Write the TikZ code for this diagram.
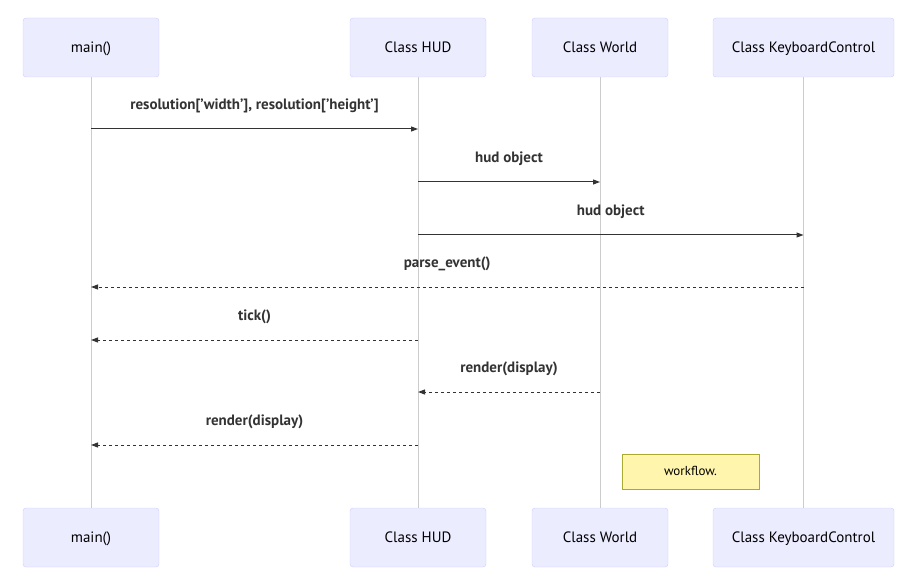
\documentclass[tikz,border=0pt]{standalone}
\usepackage{fontspec}
\setmainfont{PT Sans}
\usetikzlibrary{arrows.meta}
\definecolor{actorfill}{HTML}{ECECFF}
\definecolor{actorline}{HTML}{CCCCFF}
\definecolor{lifegrey}{HTML}{CCCCCC}
\definecolor{msgdark}{HTML}{333333}
\definecolor{notefill}{HTML}{FFF5AD}
\definecolor{noteline}{HTML}{AAAA33}
\begin{document}
\begin{tikzpicture}[
                x=1pt, y=-1pt,
                actor/.style={draw=actorline, fill=actorfill, rounded corners=3pt,
                    minimum height=59pt, inner sep=0pt, text height=12pt, text depth=2pt,
                    font=\fontsize{15}{17}\selectfont},
                lifeline/.style={draw=lifegrey, line width=1pt},
                msg/.style={draw=msgdark, line width=1pt, -{Triangle[length=7pt,width=5pt]}},
                reply/.style={msg, dash pattern=on 3pt off 3pt},
                msglabel/.style={font=\bfseries\fontsize{15}{17}\selectfont, text=msgdark,
                    text height=10.5pt, text depth=3pt, yshift=23pt},
                note/.style={draw=noteline, fill=notefill, minimum width=137pt, minimum height=35pt,
                    inner sep=0pt, text height=10pt, text depth=2pt, font=\fontsize{13}{15}\selectfont}]
        \useasboundingbox (0,0) rectangle (921,580);

        % Participants at top and bottom, joined by their lifelines.
        \foreach \n/\x/\w/\t in {main/91/136/main(),
                hud/418/136/Class HUD,
                world/600/136/Class World,
                keys/803.5/181/Class KeyboardControl} {
                \node[actor, minimum width=\w pt] (\n-top) at (\x,47.5) {\t};
                \node[actor, minimum width=\w pt] (\n-bot) at (\x,537.5) {\t};
                \draw[lifeline] (\n-top.south) -- (\n-bot.north);
        }

        % Messages: sender/receiver/height/label/style.
        \foreach \a/\b/\y/\t/\s [count=\i] in {
                main/hud/129/{resolution['width'], resolution['height']}/msg,
                hud/world/182/hud object/msg,
                hud/keys/235/hud object/msg,
                keys/main/287/parse\_event()/reply,
                hud/main/340/tick()/reply,
                world/hud/392/render(display)/reply,
                hud/main/445/render(display)/reply} {
                \coordinate (from\i) at (\a-top.south |- 0,\y);
                \coordinate (to\i) at (\b-top.south |- 0,\y);
                \draw[\s] (from\i) -- node[msglabel] {\t} (to\i);
        }

        % Note on the right of the world lifeline.
        \node[note] (flow) at (690.5,471.5) {workflow.};
\end{tikzpicture}
\end{document}
